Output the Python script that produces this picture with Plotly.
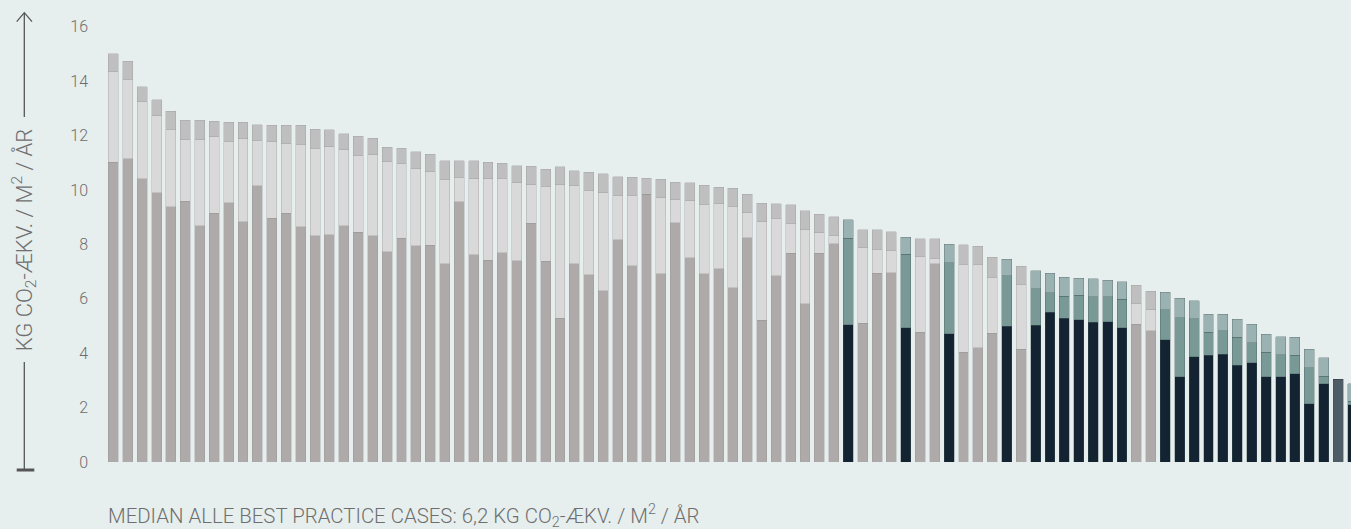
import plotly.graph_objects as go

# ---- data ----
bar_top = [15.01, 14.74, 13.79, 13.32, 12.90, 12.56, 12.56, 12.52, 12.49, 12.49,
           12.40, 12.38, 12.38, 12.38, 12.23, 12.21, 12.07, 11.97, 11.91, 11.58,
           11.54, 11.40, 11.32, 11.07, 11.07, 11.07, 11.02, 10.99, 10.89, 10.87,
           10.77, 10.85, 10.70, 10.66, 10.59, 10.48, 10.47, 10.44, 10.39, 10.29,
           10.26, 10.18, 10.11, 10.06, 9.85, 9.52, 9.49, 9.46, 9.23, 9.11,
           9.01, 8.90, 8.53, 8.53, 8.46, 8.26, 8.21, 8.20, 8.01, 7.98,
           7.93, 7.53, 7.46, 7.19, 7.03, 6.94, 6.79, 6.75, 6.73, 6.69,
           6.62, 6.50, 6.27, 6.25, 6.02, 5.92, 5.44, 5.43, 5.25, 5.07,
           4.69, 4.61, 4.58, 4.15, 3.83, 3.05, 2.87]
mid_top = [14.35, 14.08, 13.24, 12.73, 12.23, 11.85, 11.85, 11.95, 11.80, 11.88,
           11.83, 11.78, 11.70, 11.69, 11.53, 11.59, 11.48, 11.27, 11.29, 11.03,
           10.96, 10.78, 10.67, 10.39, 10.47, 10.42, 10.42, 10.44, 10.27, 10.19,
           10.13, 10.20, 10.15, 10.00, 9.90, 9.80, 9.80, 9.84, 9.72, 9.64,
           9.61, 9.47, 9.50, 9.41, 9.17, 8.84, 8.96, 8.77, 8.54, 8.42,
           8.33, 8.22, 7.88, 7.83, 7.78, 7.64, 7.55, 7.50, 7.32, 7.27,
           7.27, 6.79, 6.84, 6.53, 6.37, 6.22, 6.10, 6.13, 6.07, 6.07,
           5.99, 5.81, 5.59, 5.59, 5.31, 5.26, 4.77, 4.82, 4.58, 4.38,
           4.04, 3.95, 3.92, 3.47, 3.16, 3.05, 2.24]
base = [11.02, 11.14, 10.42, 9.90, 9.39, 9.58, 8.68, 9.14, 9.53, 8.84,
        10.16, 8.96, 9.14, 8.65, 8.31, 8.36, 8.68, 8.44, 8.32, 7.73,
        8.22, 7.95, 7.97, 7.29, 9.57, 7.62, 7.41, 7.70, 7.40, 8.77,
        7.38, 5.28, 7.29, 6.89, 6.29, 8.17, 7.21, 9.84, 6.92, 8.79,
        7.51, 6.92, 7.10, 6.40, 8.24, 5.22, 6.85, 7.68, 5.82, 7.67,
        8.03, 5.04, 5.11, 6.94, 6.96, 4.94, 4.77, 7.29, 4.72, 4.04,
        4.20, 4.73, 5.00, 4.14, 5.02, 5.50, 5.28, 5.23, 5.13, 5.15,
        4.93, 5.06, 4.82, 4.49, 3.14, 3.87, 3.92, 3.96, 3.55, 3.65,
        3.13, 3.13, 3.24, 2.14, 2.87, 3.05, 2.10]
# g = grey case, t = teal case, d = single dark case
group = list("g" * 51 + "t" + "ggg" + "t" + "gg" + "t" + "ggg" + "t" + "g" + "t"
             + "tttttt" + "gg" + "tttttttttttt" + "d" + "t")
y_ticks = [0, 2, 4, 6, 8, 10, 12, 14, 16]
axis_title = "KG CO<sub>2</sub>-ÆKV. / M<sup>2</sup> / ÅR"
footnote = "MEDIAN ALLE BEST PRACTICE CASES: 6,2 KG CO<sub>2</sub>-ÆKV. / M<sup>2</sup> / ÅR"

# ---- derived segments ----
n = len(bar_top)
x = list(range(n))
seg_base = base
seg_mid = [m - b for m, b in zip(mid_top, base)]
seg_top = [t - m for t, m in zip(bar_top, mid_top)]

palette = {
    "g": ("#aeaaa9", "#d9d9d9", "#c0bfbf"),
    "t": ("#132331", "#789996", "#9bb2b2"),
    "d": ("#4f5d67", "#4f5d67", "#4f5d67"),
}
edge = {
    "g": "rgba(150,150,150,0.55)",
    "t": "rgba(70,90,95,0.55)",
    "d": "rgba(60,70,80,0.6)",
}

fig = go.Figure()
for k, seg in enumerate([seg_base, seg_mid, seg_top]):
    fig.add_trace(go.Bar(
        x=x, y=seg, width=0.69,
        marker=dict(color=[palette[g][k] for g in group],
                    line=dict(color=[edge[g] for g in group], width=0.6)),
        showlegend=False, hoverinfo="skip",
    ))

W, H = 1351, 529
L, R, T, B = 100, 0, 20, 67
pw, ph = W - L - R, H - T - B

def px(xp):
    return (xp - L) / pw

def py(yp):
    return (H - B - yp) / ph

line_col = "#555555"
shapes = [
    dict(type="line", xref="paper", yref="paper", x0=px(24.3), x1=px(24.3), y0=py(13), y1=py(117),
         line=dict(color=line_col, width=1.3)),
    dict(type="path", xref="paper", yref="paper",
         path=f"M {px(16.7)},{py(21.7)} L {px(24.3)},{py(12.7)} L {px(32)},{py(21.7)}",
         line=dict(color=line_col, width=1.3)),
    dict(type="line", xref="paper", yref="paper", x0=px(24.3), x1=px(24.3), y0=py(362), y1=py(470),
         line=dict(color=line_col, width=1.3)),
    dict(type="line", xref="paper", yref="paper", x0=px(16.7), x1=px(34.3), y0=py(470), y1=py(470),
         line=dict(color=line_col, width=3)),
]

text_col = "#6e6e6e"
fig.update_layout(
    width=W, height=H,
    margin=dict(l=L, r=R, t=T, b=B, pad=0),
    barmode="stack",
    paper_bgcolor="#e7eeee", plot_bgcolor="#e7eeee",
    font=dict(family="Roboto", color=text_col, weight=300),
    xaxis=dict(range=[-0.923, 85.89], showticklabels=False, showgrid=False,
               zeroline=False, showline=False, ticks=""),
    yaxis=dict(range=[0, 16.25], tickvals=y_ticks, showgrid=False, zeroline=False,
               showline=False, ticks="", ticklabelstandoff=11,
               tickfont=dict(size=16, color=text_col, family="Roboto", weight=300)),
    shapes=shapes,
    annotations=[
        dict(xref="paper", yref="paper", x=px(24.3), y=py(240), text=axis_title,
             textangle=-90, showarrow=False, xanchor="center", yanchor="middle",
             font=dict(size=22, color=text_col, family="Roboto", weight=300)),
        dict(xref="paper", yref="paper", x=px(106), y=py(515), text=footnote,
             showarrow=False, xanchor="left", yanchor="middle",
             font=dict(size=20.4, color=text_col, family="Roboto", weight=300)),
    ],
)

fig.write_html("out.html", config={"displayModeBar": False},
               post_script="document.body.style.margin='0';")
